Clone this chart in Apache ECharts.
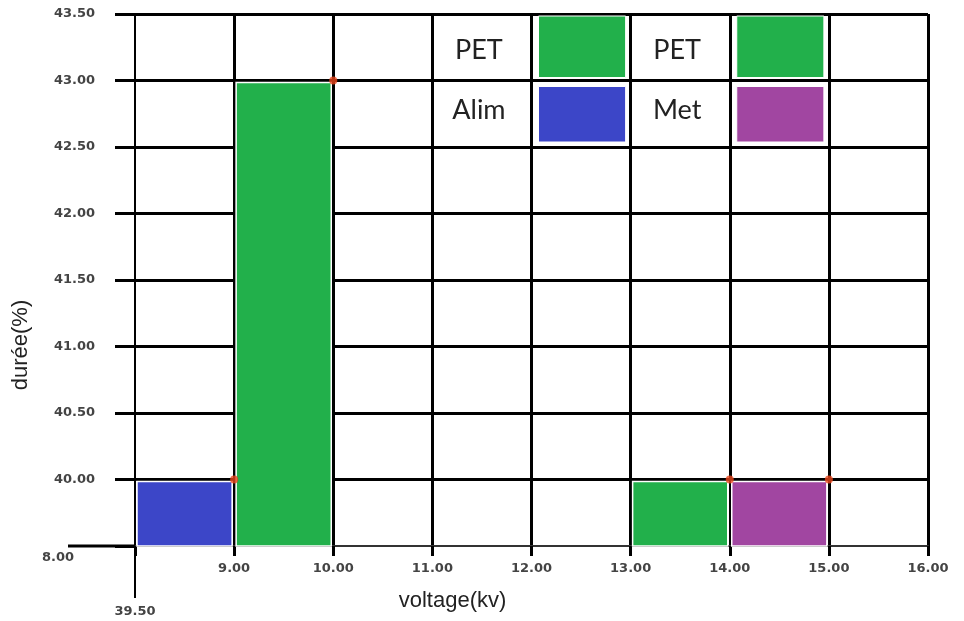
<!DOCTYPE html>
<html><head><meta charset="utf-8">
<script src="https://cdn.jsdelivr.net/npm/echarts@6/dist/echarts.min.js"></script>
<style>html,body{margin:0;padding:0;background:#fff}#c{width:964px;height:621px}</style>
</head><body><div id="c"></div>
<script>
// ---- data ----
const xMin = 8, xMax = 16, xStep = 1;
const yMin = 39.5, yMax = 43.5, yStep = 0.5;
const barStart = [8, 9, 13, 14];
const barEnd = [9, 10, 14, 15];
const barTop = [40.0, 43.0, 40.0, 40.0];
const barGroup = ['Alim', 'PET', 'PET', 'Met'];
const legendLabels = ['PET', 'Alim', 'PET', 'Met'];
const xName = 'voltage(kv)';
const yName = 'durée(%)';

// ---- styles ----
const colorOf = { PET: '#22b04b', Alim: '#3c46c8', Met: '#a146a1' };
const legendCol = [11, 11, 13, 13];      // label cell start (x units)
const legendRow = [43, 42.5, 43, 42.5];  // cell bottom (y units)

const chart = echarts.init(document.getElementById('c'), null, { renderer: 'canvas' });

const barData = barStart.map((s, i) => [s, barEnd[i], yMin, barTop[i], i]);
const legendData = legendLabels.map((l, i) => [legendCol[i], legendRow[i], i]);
const markerData = barEnd.map((e, i) => [e, barTop[i]]);

const tickFont = '"DejaVu Sans", sans-serif';
const labelStyle = { color: '#444', fontSize: 13, fontFamily: tickFont, fontWeight: 'bold' };

chart.setOption({
  animation: false,
  backgroundColor: '#fff',
  grid: { left: 135, right: 36, top: 14, bottom: 75 },
  xAxis: {
    type: 'value', min: xMin, max: xMax, interval: xStep,
    name: xName, nameLocation: 'middle', nameGap: 44,
    nameTextStyle: { color: '#222', fontSize: 22, fontFamily: 'Liberation Sans, Arial', padding: [0, 158, 0, 0] },
    axisLine: { show: true, lineStyle: { color: '#333', width: 2 } },
    axisTick: { show: true, length: 10, lineStyle: { color: '#000', width: 3 } },
    axisLabel: Object.assign({ margin: 16, formatter: v => v === xMin ? '' : v.toFixed(2) }, labelStyle),
    splitLine: { show: true, showMinLine: false, lineStyle: { color: '#000', width: 3 } }
  },
  yAxis: {
    type: 'value', min: yMin, max: yMax, interval: yStep,
    name: yName, nameLocation: 'middle', nameGap: 103, nameRotate: 90,
    nameTextStyle: { color: '#222', fontSize: 22, fontFamily: 'Liberation Sans, Arial', padding: [0, 130, 0, 0] },
    axisLine: { show: true, lineStyle: { color: '#000', width: 2 } },
    axisTick: { show: true, length: 20, lineStyle: { color: '#000', width: 3 } },
    axisLabel: Object.assign({ margin: 40, formatter: v => v === yMin ? '' : v.toFixed(2) }, labelStyle),
    splitLine: { show: true, showMinLine: false, lineStyle: { color: '#000', width: 3 } }
  },
  series: [
    {
      type: 'custom', data: barData, z: 3,
      renderItem: (params, api) => {
        const x0 = api.value(0), x1 = api.value(1), y0 = api.value(2), y1 = api.value(3);
        const i = api.value(4);
        const p0 = api.coord([x0, y1]), p1 = api.coord([x1, y0]);
        const inset = 2;
        return {
          type: 'rect',
          shape: { x: p0[0] + inset, y: p0[1] + inset, width: p1[0] - p0[0] - 2 * inset, height: p1[1] - p0[1] - inset },
          style: { fill: colorOf[barGroup[i]], stroke: '#fff', lineWidth: 1.5 }
        };
      }
    },
    {
      type: 'custom', data: legendData, z: 3,
      renderItem: (params, api) => {
        const cx = api.value(0), cy = api.value(1), i = api.value(2);
        const a = api.coord([cx, cy + yStep]), b = api.coord([cx + xStep, cy]), c = api.coord([cx + 2 * xStep, cy]);
        const topRow = cy + yStep >= yMax;
        const top = topRow ? a[1] + 2 : a[1] + 6;
        const bottom = topRow ? b[1] - 3 : b[1] - 5;
        const ty = topRow ? (a[1] + b[1]) / 2 + 3 : (a[1] + b[1]) / 2 - 3;
        return {
          type: 'group',
          children: [
            {
              type: 'text',
              style: {
                text: legendLabels[i], x: (a[0] + b[0]) / 2 - 3, y: ty,
                align: 'center', verticalAlign: 'middle',
                fill: '#222', font: '27px Lato, "Open Sans", sans-serif'
              }
            },
            {
              type: 'rect',
              shape: { x: b[0] + 7, y: top, width: c[0] - b[0] - 12, height: bottom - top },
              style: { fill: colorOf[legendLabels[i]], stroke: '#fff', lineWidth: 1 }
            }
          ]
        };
      }
    },
    {
      type: 'scatter', data: markerData, z: 4,
      symbol: 'circle', symbolSize: 8,
      itemStyle: { color: '#e8461c' }
    }
  ]
});

// axis extensions and corner labels, placed from the axis scale
const o = chart.convertToPixel({ gridIndex: 0 }, [xMin, yMin]);
const cornerFont = 'bold 13px "DejaVu Sans", sans-serif';
chart.setOption({
  graphic: [
    { type: 'line', shape: { x1: o[0], y1: o[1], x2: o[0], y2: o[1] + 52 }, style: { stroke: '#000', lineWidth: 2 }, z: 10 },
    { type: 'line', shape: { x1: o[0] - 67, y1: o[1], x2: o[0], y2: o[1] }, style: { stroke: '#000', lineWidth: 3 }, z: 10 },
    { type: 'text', x: o[0] - 77, y: o[1] + 12, style: { text: xMin.toFixed(2), align: 'center', verticalAlign: 'middle', fill: '#444', font: cornerFont }, z: 10 },
    { type: 'text', x: o[0], y: o[1] + 66, style: { text: yMin.toFixed(2), align: 'center', verticalAlign: 'middle', fill: '#444', font: cornerFont }, z: 10 }
  ]
});
</script></body></html>
